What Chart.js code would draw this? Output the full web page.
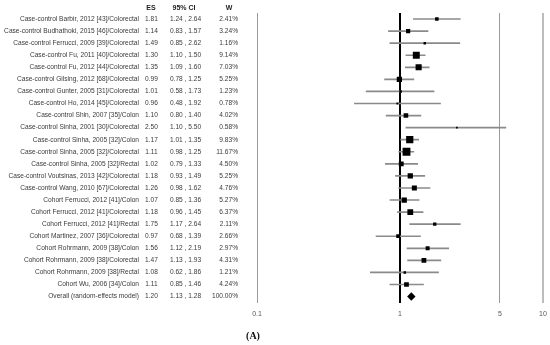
<!DOCTYPE html>
<html>
<head>
<meta charset="utf-8">
<script src="https://cdn.jsdelivr.net/npm/chart.js@4/dist/chart.umd.min.js"></script>
<style>
  html, body { margin: 0; padding: 0; background: #fff; }
  #wrap { width: 550px; height: 345px; position: relative; }
</style>
</head>
<body>
<div id="wrap"><canvas id="forestChart"></canvas></div>
<script>
// FOREST PLOT - STUDIES

const studies = [
    'Case-control Barbir, 2012 [43]/Colorectal',
    'Case-control Budhathoki, 2015 [46]/Colorectal',
    'Case-control Ferrucci, 2009 [39]/Colorectal',
    'Case-control Fu, 2011 [40]/Colorectal',
    'Case-control Fu, 2012 [44]/Colorectal',
    'Case-control Gilsing, 2012 [68]/Colorectal',
    'Case-control Gunter, 2005 [31]/Colorectal',
    'Case-control Ho, 2014 [45]/Colorectal',
    'Case-control Shin, 2007 [35]/Colon',
    'Case-control Sinha, 2001 [30]/Colorectal',
    'Case-control Sinha, 2005 [32]/Colon',
    'Case-control Sinha, 2005 [32]/Colorectal',
    'Case-control Sinha, 2005 [32]/Rectal',
    'Case-control Voutsinas, 2013 [42]/Colorectal',
    'Case-control Wang, 2010 [67]/Colorectal',
    'Cohort Ferrucci, 2012 [41]/Colon',
    'Cohort Ferrucci, 2012 [41]/Colorectal',
    'Cohort Ferrucci, 2012 [41]/Rectal',
    'Cohort Martinez, 2007 [36]/Colorectal',
    'Cohort Rohrmann, 2009 [38]/Colon',
    'Cohort Rohrmann, 2009 [38]/Colorectal',
    'Cohort Rohrmann, 2009 [38]/Rectal',
    'Cohort Wu, 2006 [34]/Colon',
    'Overall (random-effects model)'
];

const es = [1.81, 1.14, 1.49, 1.30, 1.35, 0.99, 1.01, 0.96, 1.10, 2.50, 1.17, 1.11,
    1.02, 1.18, 1.26, 1.07, 1.18, 1.75, 0.97, 1.56, 1.47, 1.08, 1.11, 1.20];
const ciLow = [1.24, 0.83, 0.85, 1.10, 1.09, 0.78, 0.58, 0.48, 0.80, 1.10, 1.01, 0.98,
    0.79, 0.93, 0.98, 0.85, 0.96, 1.17, 0.68, 1.12, 1.13, 0.62, 0.85, 1.13];
const ciHigh = [2.64, 1.57, 2.62, 1.50, 1.60, 1.25, 1.73, 1.92, 1.40, 5.50, 1.35, 1.25,
    1.33, 1.49, 1.62, 1.36, 1.45, 2.64, 1.39, 2.19, 1.93, 1.86, 1.46, 1.28];
const weights = [2.41, 3.24, 1.16, 9.14, 7.03, 5.25, 1.23, 0.78, 4.02, 0.58, 9.83, 11.67,
    4.50, 5.25, 4.76, 5.27, 6.37, 2.11, 2.66, 2.97, 4.31, 1.21, 4.24, 100.00];

const xTicks = [0.1, 1, 5, 10];
const headers = ['ES', '95% CI', 'W'];

const lastRow = studies.length - 1;

// squares sized by weight, diamond for the pooled estimate
const radii = weights.map((w, i) => i === lastRow ? 4.2 : Math.max(1.2, 2.3 * Math.sqrt(w) / 1.414));
const styles = weights.map((w, i) => i === lastRow ? 'rectRot' : 'rect');

// table text on the left
const tablePlugin = {
    id: 'forestTable',
    afterDraw(chart) {
        const c = chart.ctx;
        const yScale = chart.scales.y;
        c.save();
        c.textBaseline = 'middle';
        c.fillStyle = '#222';
        c.font = 'bold 7px "Liberation Sans", Arial, sans-serif';
        c.textAlign = 'center';
        c.fillText(headers[0], 151, 8);
        c.fillText(headers[1], 184, 8);
        c.fillText(headers[2], 229, 8);

        c.font = '6.6px "Liberation Sans", Arial, sans-serif';
        c.fillStyle = '#3a3a3a';
        studies.forEach((name, i) => {
            const y = yScale.getPixelForValue(i);
            c.textAlign = 'right';
            c.fillText(name, 139, y);
            c.textAlign = 'center';
            c.fillText(es[i].toFixed(2), 151.5, y);
            c.fillText(ciLow[i].toFixed(2) + ' , ' + ciHigh[i].toFixed(2), 185.5, y);
            c.textAlign = 'right';
            c.fillText(weights[i].toFixed(2) + '%', 238, y);
        });

        c.font = 'bold 10px "Liberation Serif", "Times New Roman", serif';
        c.fillStyle = '#111';
        c.textAlign = 'center';
        c.fillText('(A)', 253, 336);
        c.restore();
    }
};

const ctx = document.getElementById('forestChart');

new Chart(ctx, {
    type: 'bar',
    data: {
        labels: studies,
        datasets: [
            {
                type: 'scatter',
                data: studies.map((s, i) => ({ x: es[i], y: s })),
                pointStyle: styles,
                pointRadius: radii,
                backgroundColor: '#000',
                borderWidth: 0,
                order: 0
            },
            {
                data: studies.map((s, i) => i === lastRow ? null : [ciLow[i], ciHigh[i]]),
                backgroundColor: '#8a8a8a',
                barThickness: 1,
                borderWidth: 0,
                order: 1
            }
        ]
    },
    options: {
        indexAxis: 'y',
        responsive: true,
        maintainAspectRatio: false,
        animation: false,
        events: [],
        layout: {
            padding: { left: 257, right: 7, top: 13, bottom: 25 }
        },
        plugins: {
            legend: { display: false },
            tooltip: { enabled: false }
        },
        scales: {
            x: {
                type: 'logarithmic',
                min: 0.1,
                max: 10,
                afterBuildTicks: function(axis) {
                    axis.ticks = xTicks.map(v => ({ value: v }));
                },
                border: { display: false },
                grid: {
                    drawTicks: true,
                    tickLength: 5,
                    tickColor: 'rgba(0,0,0,0)',
                    color: c => c.tick && c.tick.value === 1 ? '#000' : (c.tick && c.tick.value === 10 ? '#bdbdbd' : '#9a9a9a'),
                    lineWidth: c => c.tick && (c.tick.value === 1 || c.tick.value === 10) ? 2 : 1
                },
                ticks: {
                    padding: 2,
                    color: '#555',
                    font: { size: 7, family: '"Liberation Sans", Arial, sans-serif' },
                    callback: function(value) {
                        return String(value);
                    }
                }
            },
            y: {
                type: 'category',
                display: false,
                offset: true
            }
        }
    },
    plugins: [tablePlugin]
});
</script>
</body>
</html>
